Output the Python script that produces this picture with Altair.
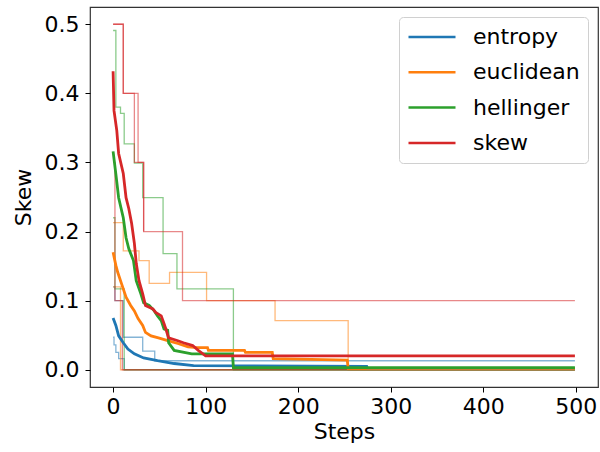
import altair as alt
import pandas as pd

methods = ["entropy", "euclidean", "hellinger", "skew"]
colors = ["#1f77b4", "#ff7f0e", "#2ca02c", "#d62728"]

# ---- mean curves (thick) ----
entropy_mean_steps = [0, 3, 6, 11, 16, 23, 33, 48, 66, 87, 274, 275, 499]
entropy_mean_vals = [0.075, 0.064, 0.049, 0.039, 0.030, 0.023, 0.017, 0.013, 0.009, 0.006, 0.005, 0.0015, 0.0015]

euclid_mean_steps = [0, 3, 5, 9, 14, 19, 23, 27, 32, 35, 41, 49, 59, 70, 81, 91, 102, 103, 142, 143,
                     172, 173, 253, 254, 499]
euclid_mean_vals = [0.170, 0.151, 0.141, 0.125, 0.105, 0.093, 0.085, 0.074, 0.064, 0.054, 0.049, 0.046,
                    0.042, 0.038, 0.033, 0.032, 0.032, 0.028, 0.028, 0.025, 0.025, 0.016, 0.014, 0.002, 0.002]

helling_mean_steps = [0, 3, 6, 11, 14, 17, 22, 25, 30, 33, 39, 44, 48, 52, 55, 59, 60, 66, 85, 129, 130, 499]
helling_mean_vals = [0.316, 0.283, 0.249, 0.220, 0.191, 0.175, 0.158, 0.129, 0.110, 0.097, 0.093, 0.086,
                     0.078, 0.071, 0.059, 0.057, 0.039, 0.028, 0.023, 0.023, 0.003, 0.003]

skew_mean_steps = [0, 1, 4, 6, 11, 14, 17, 20, 23, 25, 28, 32, 35, 43, 46, 52, 55, 57, 60, 70, 76, 86, 92, 100, 499]
skew_mean_vals = [0.432, 0.375, 0.346, 0.313, 0.284, 0.249, 0.233, 0.212, 0.183, 0.154, 0.129, 0.110, 0.093,
                  0.088, 0.083, 0.078, 0.067, 0.059, 0.046, 0.042, 0.039, 0.035, 0.028, 0.020, 0.020]

# ---- individual runs (thin) ----
entropy_run1_steps = [0, 2, 11, 32, 45, 499]
entropy_run1_vals = [0.12, 0.10, 0.047, 0.027, 0.013, 0.013]
entropy_run2_steps = [0, 1, 3, 6, 12, 499]
entropy_run2_vals = [0.047, 0.036, 0.025, 0.016, 0.0, 0.0]

euclid_run1_steps = [0, 11, 28, 39, 61, 101, 175, 254, 499]
euclid_run1_vals = [0.213, 0.172, 0.158, 0.125, 0.141, 0.100, 0.071, 0.0, 0.0]
euclid_run2_steps = [0, 8, 499]
euclid_run2_vals = [0.12, 0.0, 0.0]

helling_run1_steps = [0, 3, 8, 12, 23, 32, 54, 69, 130, 499]
helling_run1_vals = [0.491, 0.380, 0.371, 0.327, 0.299, 0.249, 0.168, 0.117, 0.0, 0.0]
helling_run2_steps = [0, 2, 12, 499]
helling_run2_vals = [0.22, 0.117, 0.0, 0.0]

skew_run1_steps = [0, 11, 23, 33, 75, 499]
skew_run1_vals = [0.50, 0.40, 0.30, 0.20, 0.10, 0.10]
skew_run2_steps = [0, 11, 27, 33]
skew_run2_vals = [0.50, 0.40, 0.30, 0.20]
skew_run3_steps = [0, 2, 10, 499]
skew_run3_vals = [0.30, 0.10, 0.0, 0.0]

means = [
    ("entropy", entropy_mean_steps, entropy_mean_vals),
    ("euclidean", euclid_mean_steps, euclid_mean_vals),
    ("hellinger", helling_mean_steps, helling_mean_vals),
    ("skew", skew_mean_steps, skew_mean_vals),
]
runs = [
    ("entropy", "e1", entropy_run1_steps, entropy_run1_vals),
    ("entropy", "e2", entropy_run2_steps, entropy_run2_vals),
    ("euclidean", "u1", euclid_run1_steps, euclid_run1_vals),
    ("euclidean", "u2", euclid_run2_steps, euclid_run2_vals),
    ("hellinger", "h1", helling_run1_steps, helling_run1_vals),
    ("hellinger", "h2", helling_run2_steps, helling_run2_vals),
    ("skew", "s1", skew_run1_steps, skew_run1_vals),
    ("skew", "s2", skew_run2_steps, skew_run2_vals),
    ("skew", "s3", skew_run3_steps, skew_run3_vals),
]

mean_rows = [{"method": m, "step": s, "value": v} for m, ss, vv in means for s, v in zip(ss, vv)]
run_rows = [{"method": m, "run": r, "step": s, "value": v} for m, r, ss, vv in runs for s, v in zip(ss, vv)]
mean_df = pd.DataFrame(mean_rows)
run_df = pd.DataFrame(run_rows)

FONT = "DejaVu Sans"
FS = 22

xscale = alt.Scale(domain=[-24.95, 523.95], nice=False, zero=False)
yscale = alt.Scale(domain=[-0.025, 0.525], nice=False, zero=False)
cscale = alt.Scale(domain=methods, range=colors)

xaxis = alt.Axis(title="Steps", values=[0, 100, 200, 300, 400, 500], format="d", grid=False,
                 domain=False, tickColor="#000", tickSize=5, tickWidth=1, labelPadding=4,
                 labelFont=FONT, labelFontSize=FS, labelColor="#000", titleFont=FONT,
                 titleFontSize=FS, titleFontWeight="normal", titleColor="#000", titlePadding=4)
yaxis = alt.Axis(title="Skew", values=[0, 0.1, 0.2, 0.3, 0.4, 0.5], format=".1f", grid=False,
                 domain=False, tickColor="#000", tickSize=5, tickWidth=1, labelPadding=6,
                 labelFont=FONT, labelFontSize=FS, labelColor="#000", titleFont=FONT,
                 titleFontSize=FS, titleFontWeight="normal", titleColor="#000", titlePadding=9)

legend = alt.Legend(title=None, orient="top-right", offset=10,
                    symbolType="stroke", symbolSize=2209, symbolStrokeWidth=2.5, symbolOpacity=1,
                    clipHeight=24, labelFont=FONT, labelFontSize=FS, labelColor="#000",
                    labelOffset=16, rowPadding=11.3, padding=8,
                    strokeColor="#d0d0d0", fillColor="#ffffff", cornerRadius=4)

thin = alt.Chart(run_df).mark_line(interpolate="step-after", strokeWidth=1.3, opacity=0.55).encode(
    x=alt.X("step:Q", scale=xscale, axis=xaxis),
    y=alt.Y("value:Q", scale=yscale, axis=yaxis),
    color=alt.Color("method:N", scale=cscale, legend=legend),
    detail="run:N",
)

thick = alt.Chart(mean_df).mark_line(strokeWidth=2.8).encode(
    x=alt.X("step:Q", scale=xscale, axis=xaxis),
    y=alt.Y("value:Q", scale=yscale, axis=yaxis),
    color=alt.Color("method:N", scale=cscale, legend=legend),
)

chart = alt.layer(thin, thick).properties(
    width=508, height=380, autosize="none",
    padding={"left": 90, "top": 7, "right": 2, "bottom": 65},
).configure_view(stroke="#333", strokeWidth=1.2)

chart.save("out.html", embed_options={"renderer": "svg", "actions": False})
